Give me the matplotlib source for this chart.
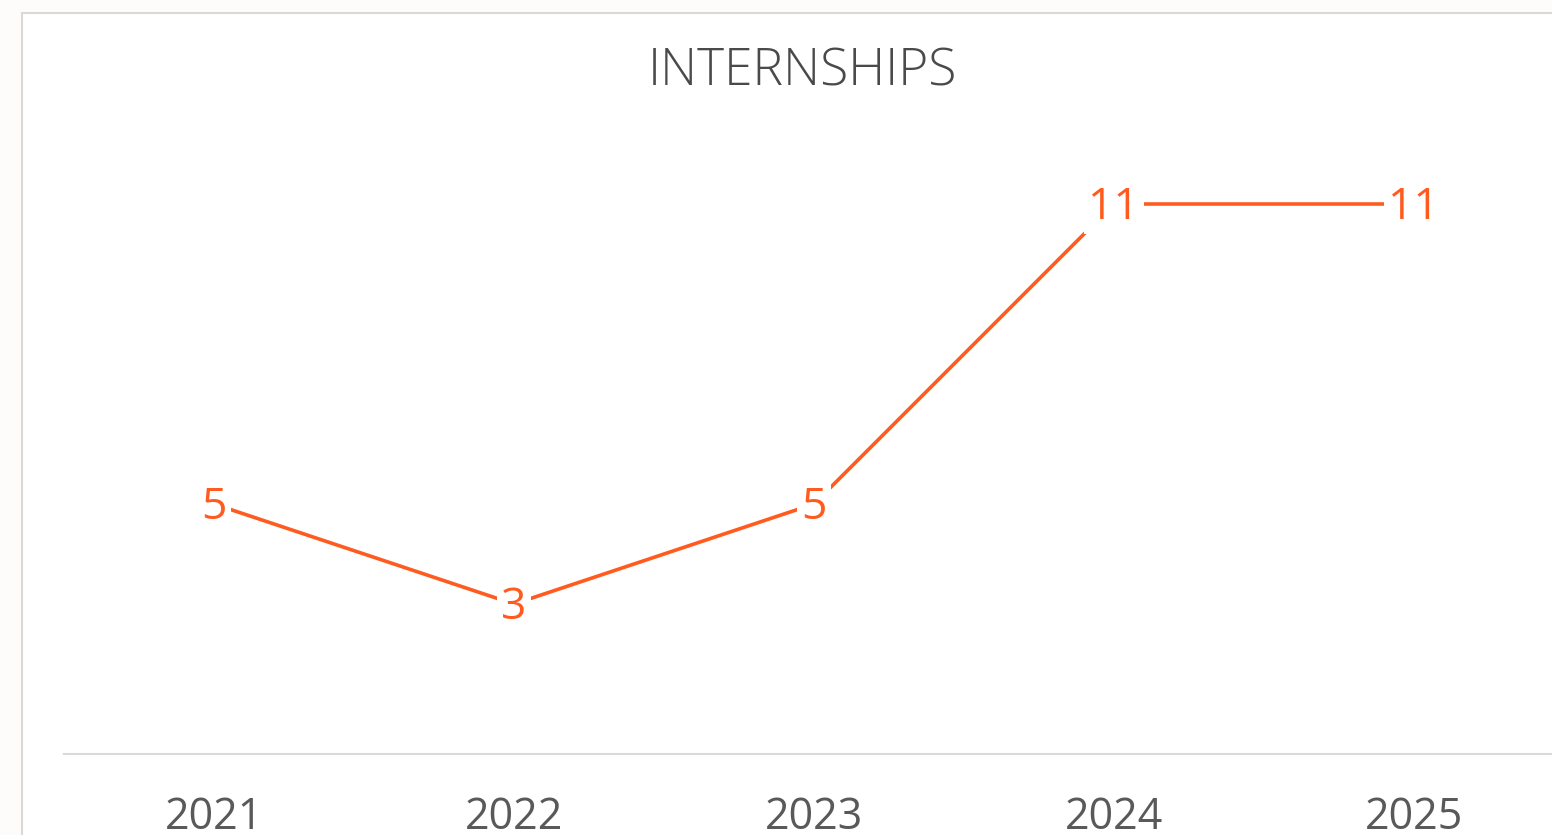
import matplotlib.pyplot as plt
from matplotlib.patches import Rectangle

# Data
years = ["2021", "2022", "2023", "2024", "2025"]
internships = [5, 3, 5, 11, 11]

orange = "#FF5B1F"
grey_text = "#595959"
plt.rcParams['font.family'] = ['Open Sans', 'DejaVu Sans']

W, H = 1552, 835
fig = plt.figure(figsize=(W / 100, H / 100), dpi=100, facecolor="#fdfcfa")

# white chart area with light border (extends beyond the crop)
fig.patches.append(Rectangle((22 / W, -0.1), 1.1, (H - 13) / H + 0.1, transform=fig.transFigure,
                             facecolor="white", edgecolor="#d9d9d9", linewidth=1.5, zorder=0))

# plot area: x categories 300px wide starting at 64px, y 0..12 from 754px to 154px
ax = fig.add_axes([64 / W, (H - 754) / H, 1500 / W, 600 / H])
ax.set_zorder(2)
ax.set_facecolor("none")
xs = list(range(len(years)))
ax.plot(xs, internships, color=orange, linewidth=2.6, solid_capstyle="butt", zorder=2)
for x, v in zip(xs, internships):
    ax.annotate(str(v), (x, v), xytext=(0, -2.5), textcoords="offset points",
                ha="center", va="center", fontsize=32, color=orange, zorder=3,
                fontweight="medium",
                bbox=dict(boxstyle="square,pad=0.1", facecolor="white", edgecolor="none"))

ax.set_xlim(-0.5, 4.5)
ax.set_ylim(0, 12)
ax.set_xticks(xs)
ax.set_xticklabels(years)
ax.set_yticks([])
ax.tick_params(axis="x", length=0, pad=30, labelsize=31, labelcolor=grey_text)
for side in ["top", "left", "right"]:
    ax.spines[side].set_visible(False)
ax.spines["bottom"].set_color("#d9d9d9")
ax.spines["bottom"].set_linewidth(1.5)

fig.text(802 / W, 1 - 72 / H, "INTERNSHIPS", ha="center", va="center",
         fontsize=37, color="#4a4a4a", fontweight="light")

fig.savefig("out.png", dpi=100, facecolor=fig.get_facecolor())
